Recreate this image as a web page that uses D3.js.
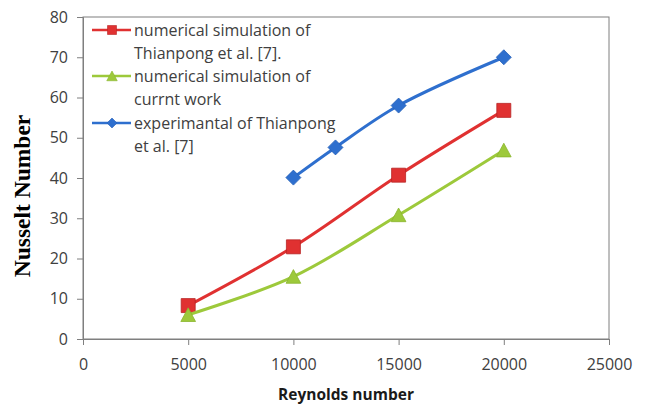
<!DOCTYPE html>
<html>
<head>
<meta charset="utf-8">
<script src="https://cdn.jsdelivr.net/npm/d3@7"></script>
<style>
  html, body { margin: 0; padding: 0; background: #fff; }
  svg { display: block; }
</style>
</head>
<body>
<svg id="chart" width="647" height="406"></svg>
<script>
// Nusselt number vs Reynolds number
const xTicks = [0, 5000, 10000, 15000, 20000, 25000];
const yTicks = [0, 10, 20, 30, 40, 50, 60, 70, 80];

const reRed = [5000, 10000, 15000, 20000];
const nuRed = [8.3, 22.9, 40.7, 56.8];

const reGreen = [5000, 10000, 15000, 20000];
const nuGreen = [6.0, 15.5, 30.8, 46.9];

const reBlue = [10000, 12000, 15000, 20000];
const nuBlue = [40.1, 47.6, 58.0, 70.0];

const seriesNames = [
  ["numerical simulation of", "Thianpong et al. [7]."],
  ["numerical simulation of", "currnt work"],
  ["experimantal of Thianpong", "et al. [7]"]
];

const svg = d3.select("#chart");
const plotL = 83, plotR = 609, plotT = 17, plotB = 339;

const x = d3.scaleLinear().domain([0, 25000]).range([plotL, plotR]);
const y = d3.scaleLinear().domain([0, 80]).range([plotB, plotT]);

const tickFont = "'Open Sans', 'Liberation Sans', sans-serif";

// marker shapes: size = full width in px
const squareMark = {
  draw(ctx, s) { const h = s / 2; ctx.rect(-h, -h, s, s); }
};
const triangleMark = {
  draw(ctx, s) {
    const h = s / 2;
    ctx.moveTo(0, -h); ctx.lineTo(h * 1.05, h * 0.95); ctx.lineTo(-h * 1.05, h * 0.95); ctx.closePath();
  }
};
const diamondMark = {
  draw(ctx, s) {
    const h = s / 2;
    ctx.moveTo(0, -h); ctx.lineTo(h, 0); ctx.lineTo(0, h); ctx.lineTo(-h, 0); ctx.closePath();
  }
};

// plot frame
svg.append("rect")
  .attr("x", plotL).attr("y", plotT)
  .attr("width", plotR - plotL).attr("height", plotB - plotT)
  .attr("fill", "none").attr("stroke", "#7f7f7f").attr("stroke-width", 1);

// axes
const xAxis = svg.append("g")
  .attr("transform", `translate(0,${plotB})`)
  .call(d3.axisBottom(x).tickValues(xTicks).tickSize(6).tickPadding(14).tickFormat(d3.format("d")));
const yAxis = svg.append("g")
  .attr("transform", `translate(${plotL},0)`)
  .call(d3.axisLeft(y).tickValues(yTicks).tickSize(6).tickPadding(9).tickFormat(d3.format("d")));

[xAxis, yAxis].forEach(g => {
  g.select(".domain").attr("stroke", "#7f7f7f");
  g.selectAll(".tick line").attr("stroke", "#7f7f7f");
  g.selectAll(".tick text")
    .attr("font-family", tickFont)
    .attr("font-size", 16)
    .attr("fill", "#404040");
});

// axis titles
svg.append("text")
  .attr("x", 346).attr("y", 400)
  .attr("text-anchor", "middle")
  .attr("font-family", tickFont)
  .attr("font-weight", "bold")
  .attr("font-size", 15.5)
  .attr("fill", "#1a1a1a")
  .text("Reynolds number");

svg.append("text")
  .attr("transform", `translate(30,196) rotate(-90)`)
  .attr("text-anchor", "middle")
  .attr("font-family", "'Liberation Serif', 'DejaVu Serif', serif")
  .attr("font-weight", "bold")
  .attr("font-size", 23.5)
  .attr("fill", "#000")
  .text("Nusselt Number");

const curve = d3.curveCatmullRom.alpha(0.5);

const series = [
  { xs: reRed, ys: nuRed, color: "#e03131", stroke: "#b82525", marker: squareMark, size: 14, lsize: 9 },
  { xs: reGreen, ys: nuGreen, color: "#9dc93b", stroke: "#8ab52d", marker: triangleMark, size: 14, lsize: 10 },
  { xs: reBlue, ys: nuBlue, color: "#2e6fce", stroke: "#2560b8", marker: diamondMark, size: 15, lsize: 10 }
];

series.forEach(s => {
  const pts = s.xs.map((v, i) => [v, s.ys[i]]);
  svg.append("path")
    .datum(pts)
    .attr("fill", "none")
    .attr("stroke", s.color)
    .attr("stroke-width", 3)
    .attr("d", d3.line().x(d => x(d[0])).y(d => y(d[1])).curve(curve));
  svg.append("g").selectAll("path")
    .data(pts)
    .join("path")
    .attr("transform", d => `translate(${x(d[0])},${y(d[1])})`)
    .attr("d", d3.symbol().type(s.marker).size(s.size))
    .attr("fill", s.color)
    .attr("stroke", s.stroke)
    .attr("stroke-width", 0.8);
});

// legend
const legend = svg.append("g");
const legendRowY = [30, 76, 123];
series.forEach((s, i) => {
  const ly = legendRowY[i];
  legend.append("line")
    .attr("x1", 92).attr("x2", 131)
    .attr("y1", ly).attr("y2", ly)
    .attr("stroke", s.color).attr("stroke-width", 2.5);
  legend.append("path")
    .attr("transform", `translate(112,${ly})`)
    .attr("d", d3.symbol().type(s.marker).size(s.lsize))
    .attr("fill", s.color)
    .attr("stroke", s.stroke)
    .attr("stroke-width", 0.6);
  seriesNames[i].forEach((t, j) => {
    legend.append("text")
      .attr("x", 134).attr("y", ly + 6 + j * 23)
      .attr("font-family", tickFont)
      .attr("font-size", 16)
      .attr("fill", "#404040")
      .text(t);
  });
});
</script>
</body>
</html>
